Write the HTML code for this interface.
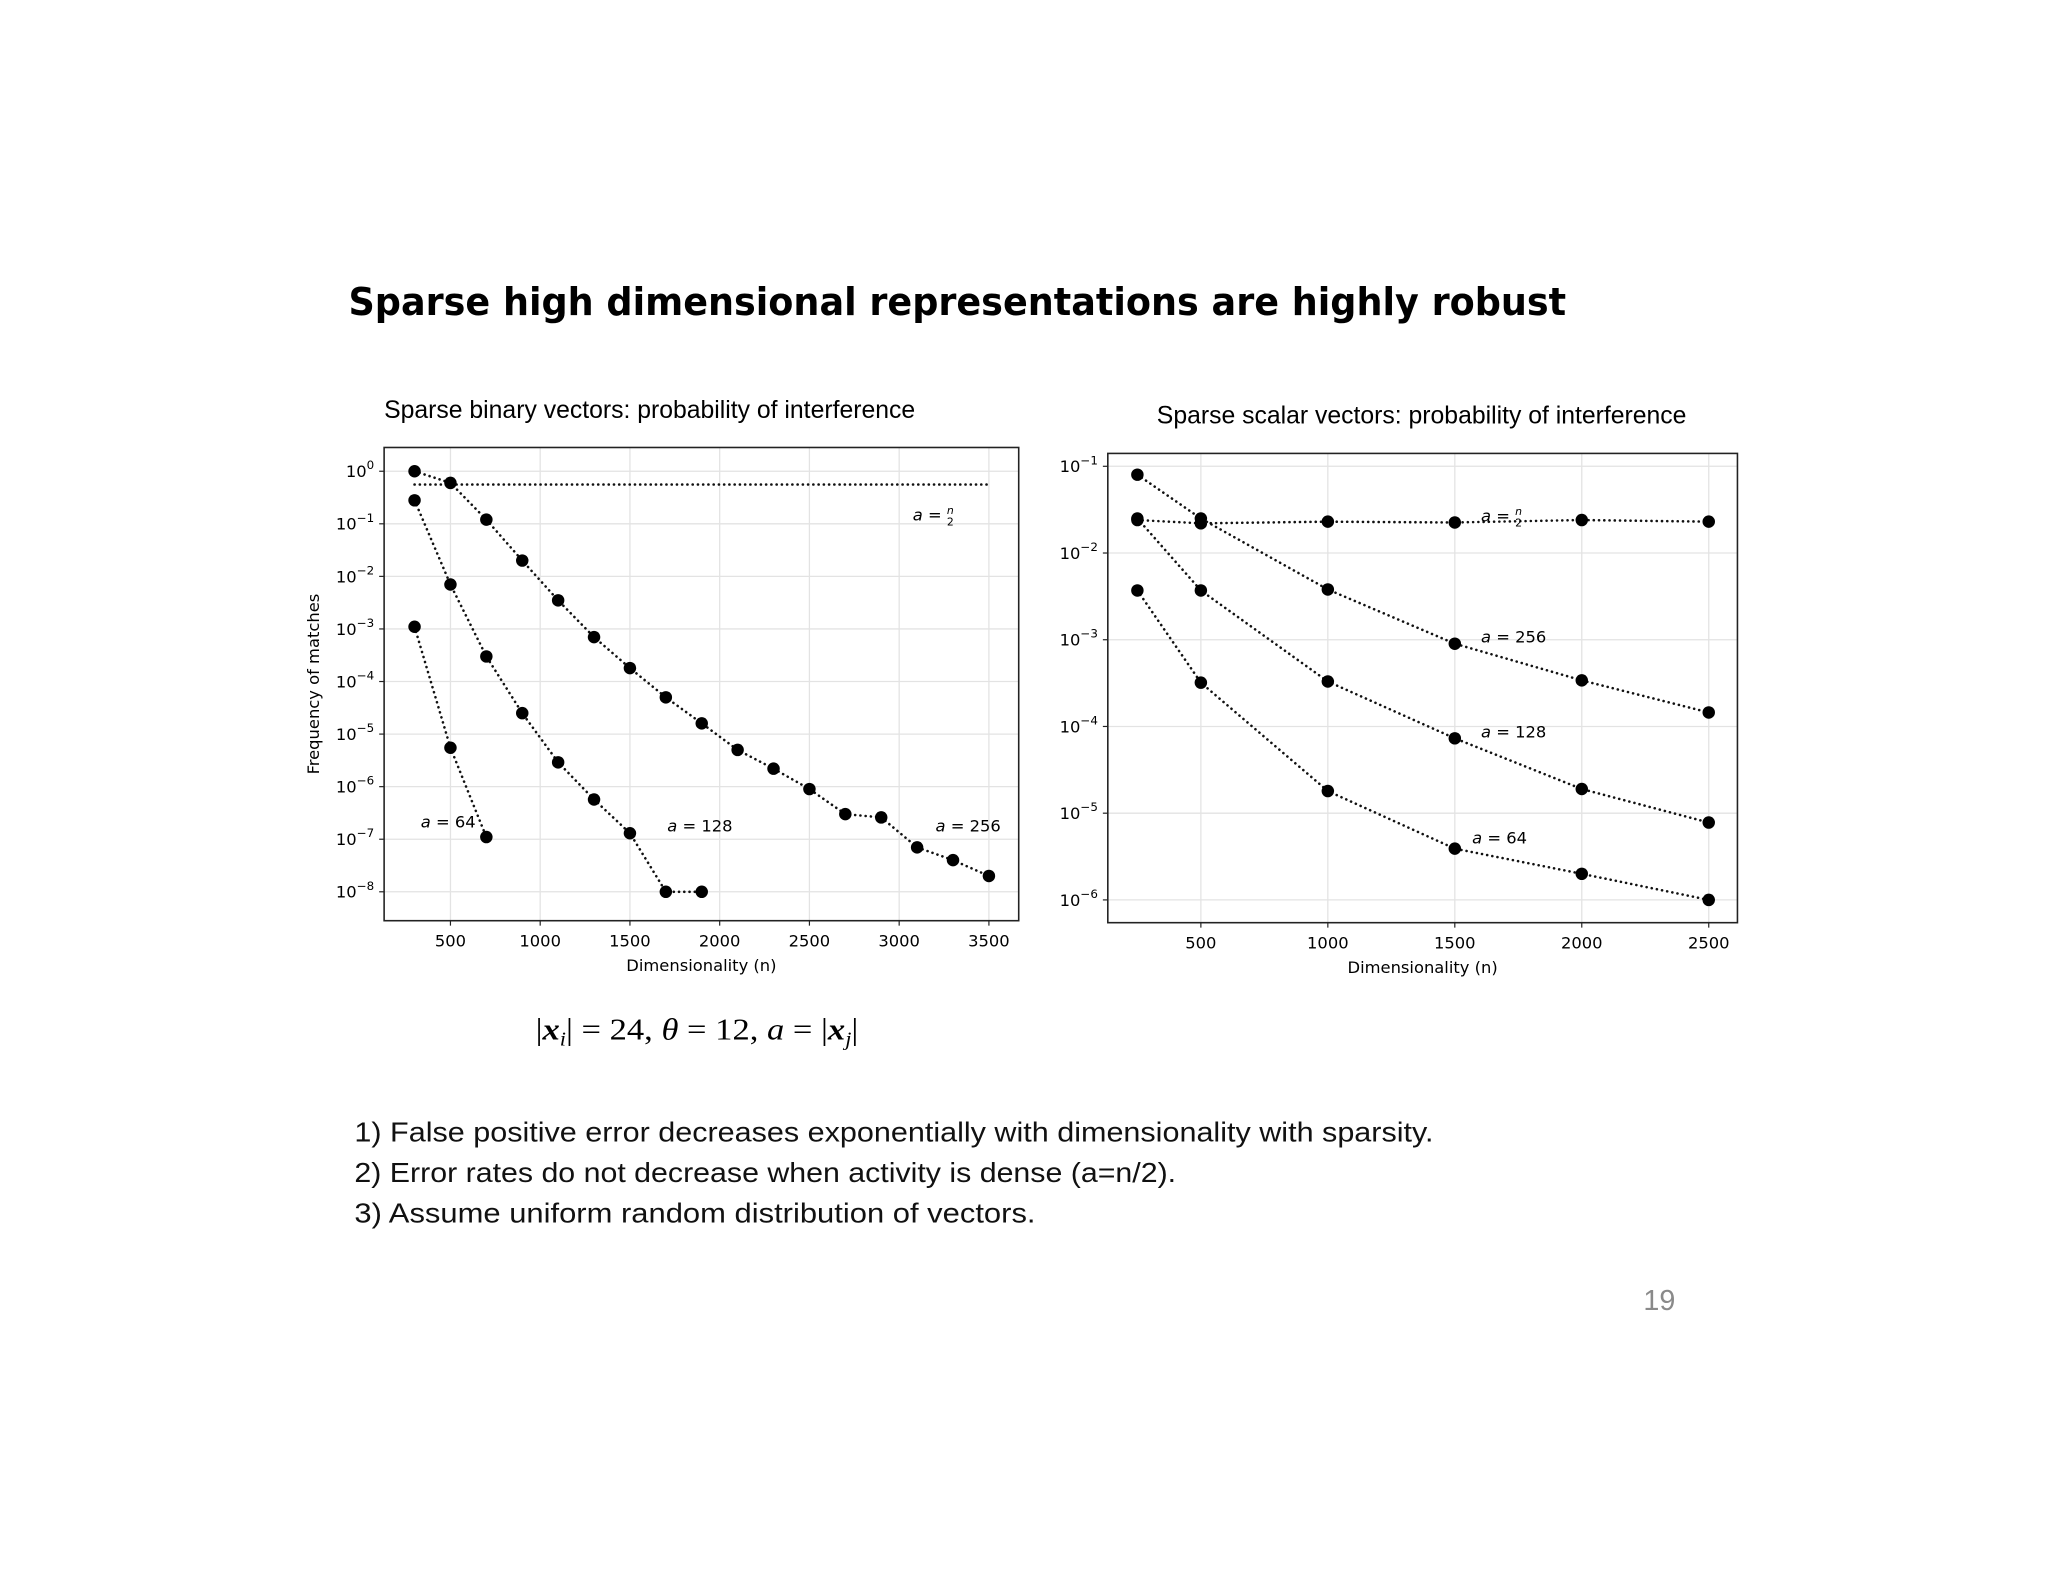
<!DOCTYPE html>
<html><head><meta charset="utf-8"><style>
html,body{margin:0;padding:0;background:#fff;}
svg{display:block;}
</style></head><body>
<svg id="root" width="2048" height="1582" viewBox="0 0 2048 1582" xmlns="http://www.w3.org/2000/svg">
<rect width="2048" height="1582" fill="#fff"/>
<g transform="scale(0.99)">
<text x="352" y="318" font-family="DejaVu Sans, sans-serif" font-weight="bold" font-size="39" textLength="1230" lengthAdjust="spacingAndGlyphs">Sparse high dimensional representations are highly robust</text>
<g id="left"></g>
<g id="right"></g>
<text x="541" y="1050" font-family="Liberation Serif, serif" font-size="31" textLength="326" lengthAdjust="spacingAndGlyphs">|<tspan font-weight="bold" font-style="italic">x</tspan><tspan font-style="italic" font-size="20" dy="6">i</tspan><tspan dy="-6">| = 24, </tspan><tspan font-style="italic">θ</tspan> = 12, <tspan font-style="italic">a</tspan> = |<tspan font-weight="bold" font-style="italic">x</tspan><tspan font-style="italic" font-size="20" dy="6">j</tspan><tspan dy="-6">|</tspan></text>
<g font-family="Liberation Sans, sans-serif" font-size="28" fill="#111">
<text x="358" y="1153" textLength="1090" lengthAdjust="spacingAndGlyphs">1) False positive error decreases exponentially with dimensionality with sparsity.</text>
<text x="358" y="1194" textLength="830" lengthAdjust="spacingAndGlyphs">2) Error rates do not decrease when activity is dense (a=n/2).</text>
<text x="358" y="1235" textLength="688" lengthAdjust="spacingAndGlyphs">3) Assume uniform random distribution of vectors.</text>
</g>
<text x="1660" y="1323" font-family="Liberation Sans, sans-serif" font-size="29" fill="#8a8a8a">19</text>
</g>
</svg>
<script>
// ---- Left chart data ----
const leftN256 = [300,500,700,900,1100,1300,1500,1700,1900,2100,2300,2500,2700,2900,3100,3300,3500];
const leftA256 = [1.0,0.6,0.12,0.02,0.0035,7e-4,1.8e-4,5e-5,1.6e-5,5e-6,2.2e-6,9e-7,3e-7,2.6e-7,7e-8,4e-8,2e-8];
const leftN128 = [300,500,700,900,1100,1300,1500,1700,1900];
const leftA128 = [0.28,0.007,3e-4,2.5e-5,2.9e-6,5.7e-7,1.3e-7,1e-8,1e-8];
const leftN64 = [300,500,700];
const leftA64 = [1.1e-3,5.5e-6,1.1e-7];
const leftHalfN = [300,3500];
const leftHalf = [0.56,0.56];
const leftXTicks = [500,1000,1500,2000,2500,3000,3500];
const leftYTicks = [0,-1,-2,-3,-4,-5,-6,-7,-8];
// ---- Right chart data ----
const rightN = [250,500,1000,1500,2000,2500];
const rightHalf = [0.024,0.022,0.023,0.0225,0.024,0.023];
const rightA256 = [0.08,0.025,0.0038,9e-4,3.4e-4,1.45e-4];
const rightA128 = [0.025,0.0037,3.3e-4,7.3e-5,1.9e-5,7.8e-6];
const rightA64 = [0.0037,3.2e-4,1.8e-5,3.9e-6,2e-6,1e-6];
const rightXTicks = [500,1000,1500,2000,2500];
const rightYTicks = [-1,-2,-3,-4,-5,-6];

const NS='http://www.w3.org/2000/svg';
function mk(parent, tag, attrs){const e=document.createElementNS(NS,tag);for(const k in attrs)e.setAttribute(k,attrs[k]);parent.appendChild(e);return e;}

function drawChart(g, cfg){
  const {box, xs, ys, xTicks, yTicks, title, titleX, titleAnchor, ylabel} = cfg;
  const t = mk(g,'text',{x:titleX,y:box.y-30,'font-family':'Liberation Sans, sans-serif','font-size':25,'text-anchor':titleAnchor});
  t.textContent = title;
  
  
  xTicks.forEach(v=>{
    const x=xs(v);
    const gl=mk(g,'line',{x1:x,x2:x,y1:box.y,y2:box.y+box.h,stroke:'#e3e3e3','stroke-width':1.3});
    
    
    mk(g,'line',{x1:x,x2:x,y1:box.y+box.h,y2:box.y+box.h+5,stroke:'#222','stroke-width':1.2});
    const lb=mk(g,'text',{x:x,y:box.y+box.h+26,'font-family':'DejaVu Sans, sans-serif','font-size':16.5,'text-anchor':'middle'});
    lb.textContent=String(v);
    
    
  });
  yTicks.forEach(p=>{
    const y=ys(Math.pow(10,p));
    const gl=mk(g,'line',{x1:box.x,x2:box.x+box.w,y1:y,y2:y,stroke:'#e3e3e3','stroke-width':1.3});
    
    
    mk(g,'line',{x1:box.x-5,x2:box.x,y1:y,y2:y,stroke:'#222','stroke-width':1.2});
    const lb=mk(g,'text',{x:box.x-10,y:y+6,'font-family':'DejaVu Sans, sans-serif','font-size':16.5,'text-anchor':'end'});
    
    
    const a=document.createElementNS(NS,'tspan');a.textContent='10';lb.appendChild(a);
    const b=document.createElementNS(NS,'tspan');b.setAttribute('dy','-8');b.setAttribute('font-size','12');
    b.textContent = p===0?'0':'\u2212'+(-p);lb.appendChild(b);
  });
  const fr=mk(g,'rect',{x:box.x,y:box.y,width:box.w,height:box.h,fill:'none',stroke:'#222','stroke-width':1.6});
  
  
  const xl=mk(g,'text',{x:box.x+box.w/2,y:box.y+box.h+51,'font-family':'DejaVu Sans, sans-serif','font-size':16.5,'text-anchor':'middle'});
  xl.textContent='Dimensionality (n)';
  
  
  if(ylabel){
    const yl=mk(g,'text',{x:0,y:0,'font-family':'DejaVu Sans, sans-serif','font-size':16.5,'text-anchor':'middle',transform:`translate(${box.x-66},${box.y+box.h/2}) rotate(-90)`});
    yl.textContent=ylabel;
    
    
  }
}
function series(g, xsArr, ysArr, xs, ys, name, markers){
  const pts = xsArr.map((n,i)=>xs(n)+','+ys(ysArr[i])).join(' ');
  const pl=mk(g,'polyline',{points:pts,fill:'none',stroke:'#111','stroke-width':2.6,'stroke-dasharray':'0.1 5.2','stroke-linecap':'round'});
  
  
  if(markers) xsArr.forEach((n,i)=>{
    const c=mk(g,'circle',{cx:xs(n),cy:ys(ysArr[i]),r:6.3,fill:'#000'});
    
    
  });
}
function label(g,x,y,txt,name,frac){
  const t=mk(g,'text',{x:x,y:y,'font-family':'DejaVu Sans, sans-serif','font-size':16.5});
  
  
  const a=document.createElementNS(NS,'tspan');a.setAttribute('font-style','italic');a.textContent='a';t.appendChild(a);
  const b=document.createElementNS(NS,'tspan');b.textContent=' = '+(frac?'':txt);t.appendChild(b);
  if(frac){
    const n=document.createElementNS(NS,'tspan');n.setAttribute('font-size','11');n.setAttribute('dy','-7');n.setAttribute('font-style','italic');n.textContent='n';t.appendChild(n);
    const d=document.createElementNS(NS,'tspan');d.setAttribute('font-size','11');d.setAttribute('dy','12');d.setAttribute('dx','-7');d.textContent='2';t.appendChild(d);
  }
}

// Left
(function(){
  const g=document.getElementById('left');
  const box={x:388,y:452,w:641,h:478};
  const xs=n=>455+(n-500)*0.1813;
  const ys=v=>476-Math.log10(v)*53.1;
  drawChart(g,{box,xs,ys,xTicks:leftXTicks,yTicks:leftYTicks,title:'Sparse binary vectors: probability of interference',titleX:388,titleAnchor:'start',ylabel:'Frequency of matches'});
  series(g,leftHalfN,leftHalf,xs,ys,'a-half',false);
  series(g,leftN256,leftA256,xs,ys,'a-256',true);
  series(g,leftN128,leftA128,xs,ys,'a-128',true);
  series(g,leftN64,leftA64,xs,ys,'a-64',true);
  label(g,922,526,'','label-a-half',true);
  label(g,425,836,'64','label-a-64',false);
  label(g,674,840,'128','label-a-128',false);
  label(g,945,840,'256','label-a-256',false);
})();
// Right
(function(){
  const g=document.getElementById('right');
  const box={x:1119,y:458,w:636,h:474};
  const xs=n=>1213+(n-500)*0.2565;
  const ys=v=>471-(Math.log10(v)+1)*87.6;
  drawChart(g,{box,xs,ys,xTicks:rightXTicks,yTicks:rightYTicks,title:'Sparse scalar vectors: probability of interference',titleX:1436,titleAnchor:'middle',ylabel:null});
  series(g,rightN,rightHalf,xs,ys,'a-half',true);
  series(g,rightN,rightA256,xs,ys,'a-256',true);
  series(g,rightN,rightA128,xs,ys,'a-128',true);
  series(g,rightN,rightA64,xs,ys,'a-64',true);
  label(g,1496,527,'','label-a-half',true);
  label(g,1496,649,'256','label-a-256',false);
  label(g,1496,745,'128','label-a-128',false);
  label(g,1487,852,'64','label-a-64',false);
})();
</script>
</body></html>
